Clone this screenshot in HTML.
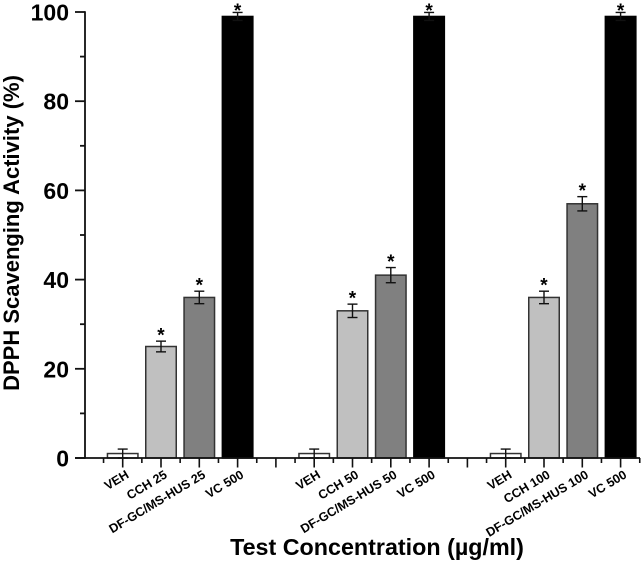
<!DOCTYPE html>
<html>
<head>
<meta charset="utf-8">
<style>
html,body{margin:0;padding:0;background:#fff;width:641px;height:562px;overflow:hidden}
svg{display:block}
text{font-family:"Liberation Sans",sans-serif;font-weight:bold;fill:#000}
</style>
</head>
<body>
<svg id="chart" width="641" height="562" viewBox="0 0 641 562" xmlns="http://www.w3.org/2000/svg"></svg>
<script>
const categories = ["VEH","CCH 25","DF-GC/MS-HUS 25","VC 500","","VEH","CCH 50","DF-GC/MS-HUS 50","VC 500","","VEH","CCH 100","DF-GC/MS-HUS 100","VC 500"];
const values = [1,25,36,99,null,1,33,41,99,null,1,36,57,99];
const errors = [1,1.2,1.4,0.9,null,1,1.5,1.7,0.9,null,1,1.4,1.6,0.9];
const significant = [false,true,true,true,false,false,true,true,true,false,false,true,true,true];
const kinds = ["veh","cch","df","vc",null,"veh","cch","df","vc",null,"veh","cch","df","vc"];
const yTicks = [0,20,40,60,80,100];
const yMinorTicks = [10,30,50,70,90];

const svg = document.getElementById('chart');
const NS = 'http://www.w3.org/2000/svg';
const fills = {veh:'#ffffff',cch:'#c0c0c0',df:'#808080',vc:'#000000'};
const yScale = v => 458 - v * 4.46;
const xScale = i => 122.7 + i * 38.3;
const axisLeft = 85;
const axisRight = 640;

function add(tag, attrs, parent, text) {
  const el = document.createElementNS(NS, tag);
  for (const k in attrs) el.setAttribute(k, attrs[k]);
  if (text !== undefined) el.textContent = text;
  (parent || svg).appendChild(el);
  return el;
}
function line(x1, y1, x2, y2, w, parent) {
  return add('line', {x1:x1, y1:y1, x2:x2, y2:y2, stroke:'#111', 'stroke-width':w}, parent);
}

categories.forEach((cat, i) => {
  if (values[i] === null) return;
  const g = add('g', {});
  
  
  const x = xScale(i), top = yScale(values[i]), w = 30.5;
  const bar = add('rect', {x:x-w/2, y:top, width:w, height:yScale(0)-top, fill:fills[kinds[i]], stroke:kinds[i]==='vc'?'#000':'#333', 'stroke-width':1.5}, g);
  
  
  const hi = yScale(values[i] + errors[i]), lo = yScale(values[i] - errors[i]);
  const err = add('g', {}, g);
  
  
  line(x, hi, x, lo, 1.4, err);
  line(x-5, hi, x+5, hi, 1.4, err);
  line(x-5, lo, x+5, lo, 1.4, err);
  if (significant[i]) {
    const star = add('text', {x:x, y:hi + (kinds[i]==='vc' ? 4.5 : 0.5), 'text-anchor':'middle', 'font-size':19}, g, '*');
    
    
  }
});

const yAxis = add('g', {});


line(axisLeft, yScale(100)-0.8, axisLeft, yScale(0)+0.8, 1.8, yAxis);
yTicks.forEach(t => {
  line(axisLeft-10, yScale(t), axisLeft, yScale(t), 1.8, yAxis);
  const lab = add('text', {x:69, y:yScale(t)+8.5, 'text-anchor':'end', 'font-size':23}, yAxis, String(t));
  
  
});
yMinorTicks.forEach(t => line(axisLeft-5, yScale(t), axisLeft, yScale(t), 1.8, yAxis));

const xAxis = add('g', {});


line(axisLeft-10, yScale(0), axisRight, yScale(0), 1.8, xAxis);
categories.forEach((cat, i) => {
  const x = xScale(i);
  line(x, yScale(0), x, yScale(0)+9.5, 1.6, xAxis);
  line(x-19.15, yScale(0), x-19.15, yScale(0)+5, 1.6, xAxis);
  if (i === categories.length - 1) line(x+19.15, yScale(0), x+19.15, yScale(0)+5, 1.6, xAxis);
  if (cat) {
    const ax = x + 7, ay = 477;
    const lab = add('text', {x:ax, y:ay, 'text-anchor':'end', 'font-size':12.5, transform:'rotate(-31 ' + ax + ' ' + ay + ')'}, xAxis, cat);
    
    
  }
});

const yTitle = add('text', {x:19, y:233, 'text-anchor':'middle', 'font-size':22, transform:'rotate(-90 19 233)'}, svg, 'DPPH Scavenging Activity (%)');


const xTitle = add('text', {x:377, y:555, 'text-anchor':'middle', 'font-size':23.3}, svg, 'Test Concentration (µg/ml)');


</script>
</body>
</html>
